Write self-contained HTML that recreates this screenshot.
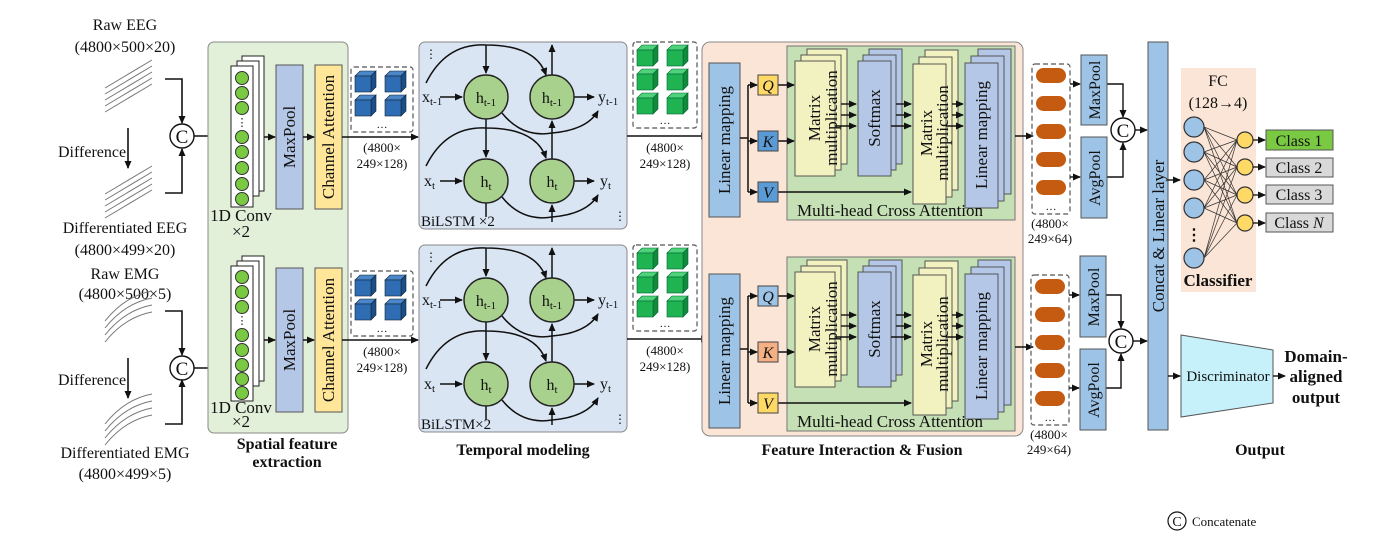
<!DOCTYPE html>
<html><head><meta charset="utf-8"><style>
html,body{margin:0;padding:0;background:#fff}
svg{display:block;font-family:"Liberation Serif",serif}
text{fill:#111}
</style></head><body>
<svg width="1397" height="548" viewBox="0 0 1397 548" xmlns="http://www.w3.org/2000/svg">
<defs>
<marker id="a" markerWidth="8" markerHeight="8" refX="7" refY="4" orient="auto" markerUnits="userSpaceOnUse"><path d="M0,0.5 L8,4 L0,7.5 z" fill="#111"/></marker>
<g id="cubeB"><path d="M0,5 l5,-5 h16 l-5,5z" fill="#4a86c8" stroke="#123" stroke-width=".6"/><path d="M16,5 l5,-5 v16 l-5,5z" fill="#1b4f8a" stroke="#123" stroke-width=".6"/><rect x="0" y="5" width="16" height="16" fill="#2e6db4" stroke="#123" stroke-width=".6"/></g>
<g id="cubeG"><path d="M0,5 l5,-5 h16 l-5,5z" fill="#4fd27a" stroke="#063" stroke-width=".6"/><path d="M16,5 l5,-5 v16 l-5,5z" fill="#128a3c" stroke="#063" stroke-width=".6"/><rect x="0" y="5" width="16" height="16" fill="#1fb451" stroke="#063" stroke-width=".6"/></g>
</defs>

<!-- LEFT INPUTS -->
<g font-size="16" text-anchor="middle">
<text x="125" y="30">Raw EEG</text><text x="125" y="52">(4800×500×20)</text>
<text x="125" y="233">Differentiated EEG</text><text x="125" y="255">(4800×499×20)</text>
<text x="125" y="279">Raw EMG</text><text x="125" y="299">(4800×500×5)</text>
<text x="125" y="458">Differentiated EMG</text><text x="125" y="479">(4800×499×5)</text>
</g>
<g font-size="16"><text x="58" y="157">Difference</text><text x="58" y="385">Difference</text></g>
<g stroke="#777" stroke-width="1" fill="none">
<path d="M105,112 l47,-28 M105,106 l47,-28 M105,100 l47,-28 M105,94 l47,-28 M105,88 l47,-28"/>
<path d="M105,218 l47,-28 M105,212 l47,-28 M105,206 l47,-28 M105,200 l47,-28 M105,194 l47,-28"/>
<path d="M105,342 q20,-25 47,-30 M105,335 q20,-25 47,-30 M105,328 q20,-25 47,-30 M105,321 q20,-25 47,-30"/>
<path d="M105,445 q20,-25 47,-30 M105,438 q20,-25 47,-30 M105,431 q20,-25 47,-30 M105,424 q20,-25 47,-30"/>
</g>
<g stroke="#111" stroke-width="1.6" fill="none">
<path d="M128,128 v40" marker-end="url(#a)"/><path d="M128,358 v40" marker-end="url(#a)"/>
<path d="M165,79 h17 v44" marker-end="url(#a)"/><path d="M165,193 h17 v-44" marker-end="url(#a)"/>
<path d="M165,311 h17 v44" marker-end="url(#a)"/><path d="M165,424 h17 v-44" marker-end="url(#a)"/>
<path d="M194,136 h34" marker-end="url(#a)"/><path d="M194,368 h34" marker-end="url(#a)"/>
</g>
<g fill="#fff" stroke="#111" stroke-width="1.4"><circle cx="182" cy="136" r="12"/><circle cx="182" cy="368" r="12"/></g>
<g font-size="19" text-anchor="middle"><text x="182" y="143">C</text><text x="182" y="375">C</text></g>

<!-- SPATIAL PANEL -->
<rect x="208" y="42" width="140" height="391" rx="6" fill="#e2efd9" stroke="#888"/>
<g>
<rect x="242" y="56" width="22" height="135" fill="#fff" stroke="#222"/>
<rect x="237" y="61" width="22" height="135" fill="#fff" stroke="#222"/>
<rect x="231" y="66" width="22" height="141" fill="#fff" stroke="#222"/>
<g fill="#7ac943" stroke="#333" stroke-width="1"><circle cx="242" cy="78" r="6.5"/><circle cx="242" cy="93" r="6.5"/><circle cx="242" cy="108" r="6.5"/><circle cx="242" cy="137" r="6.5"/><circle cx="242" cy="152" r="6.5"/><circle cx="242" cy="168" r="6.5"/><circle cx="242" cy="184" r="6.5"/><circle cx="242" cy="199" r="6.5"/></g>
<text x="242" y="126" font-size="11" text-anchor="middle">⋮</text>
<rect x="276" y="65" width="27" height="144" fill="#b4c7e7" stroke="#555"/>
<rect x="315" y="65" width="27" height="144" fill="#ffe699" stroke="#555"/>
<text transform="translate(295,137) rotate(-90)" font-size="17" text-anchor="middle">MaxPool</text>
<text transform="translate(334,137) rotate(-90)" font-size="17" text-anchor="middle">Channel Attention</text>
<g stroke="#111" stroke-width="1.5" fill="none"><path d="M264,137 h11" marker-end="url(#a)"/><path d="M303,137 h11" marker-end="url(#a)"/><path d="M342,137 h76" marker-end="url(#a)"/></g>
<rect x="351" y="67" width="62" height="65" rx="3" fill="none" stroke="#555" stroke-dasharray="5,3" stroke-width="1.2"/>
<use href="#cubeB" x="355" y="71"/><use href="#cubeB" x="385" y="71"/><use href="#cubeB" x="355" y="95"/><use href="#cubeB" x="385" y="95"/>
<text x="382" y="128" font-size="11" text-anchor="middle">…</text>
<text x="382" y="152" font-size="13" text-anchor="middle">(4800×</text><text x="382" y="168" font-size="13" text-anchor="middle">249×128)</text>
<text x="241" y="221" font-size="17" text-anchor="middle">1D Conv</text><text x="241" y="237" font-size="17" text-anchor="middle">×2</text>
</g>
<g transform="translate(0,204)">
<rect x="242" y="52" width="22" height="125" fill="#fff" stroke="#222"/>
<rect x="237" y="57" width="22" height="125" fill="#fff" stroke="#222"/>
<rect x="231" y="62" width="22" height="135" fill="#fff" stroke="#222"/>
<g fill="#7ac943" stroke="#333" stroke-width="1"><circle cx="242" cy="73" r="6.5"/><circle cx="242" cy="88" r="6.5"/><circle cx="242" cy="103" r="6.5"/><circle cx="242" cy="131" r="6.5"/><circle cx="242" cy="146" r="6.5"/><circle cx="242" cy="161" r="6.5"/><circle cx="242" cy="175" r="6.5"/><circle cx="242" cy="189" r="6.5"/></g>
<text x="242" y="120" font-size="11" text-anchor="middle">⋮</text>
<rect x="276" y="64" width="27" height="144" fill="#b4c7e7" stroke="#555"/>
<rect x="315" y="64" width="27" height="144" fill="#ffe699" stroke="#555"/>
<text transform="translate(295,136) rotate(-90)" font-size="17" text-anchor="middle">MaxPool</text>
<text transform="translate(334,136) rotate(-90)" font-size="17" text-anchor="middle">Channel Attention</text>
<g stroke="#111" stroke-width="1.5" fill="none"><path d="M264,136 h11" marker-end="url(#a)"/><path d="M303,136 h11" marker-end="url(#a)"/><path d="M342,136 h76" marker-end="url(#a)"/></g>
<rect x="351" y="67" width="62" height="65" rx="3" fill="none" stroke="#555" stroke-dasharray="5,3" stroke-width="1.2"/>
<use href="#cubeB" x="355" y="71"/><use href="#cubeB" x="385" y="71"/><use href="#cubeB" x="355" y="95"/><use href="#cubeB" x="385" y="95"/>
<text x="382" y="128" font-size="11" text-anchor="middle">…</text>
<text x="382" y="152" font-size="13" text-anchor="middle">(4800×</text><text x="382" y="168" font-size="13" text-anchor="middle">249×128)</text>
<text x="241" y="209" font-size="17" text-anchor="middle">1D Conv</text><text x="241" y="223" font-size="17" text-anchor="middle">×2</text>
</g>
<g font-size="16" font-weight="bold" text-anchor="middle"><text x="287" y="449">Spatial feature</text><text x="287" y="467">extraction</text>
<text x="523" y="455">Temporal modeling</text><text x="862" y="455">Feature Interaction &amp; Fusion</text><text x="1260" y="455">Output</text></g>

<!-- BILSTM -->
<g>
<rect x="419" y="42" width="208" height="187" rx="6" fill="#dae5f3" stroke="#888"/>
<g stroke="#111" stroke-width="1.5" fill="none">
<path d="M426,83 q20,-40 60,-38 q50,0 60,30" marker-end="url(#a)"/>
<path d="M426,166 q20,-40 60,-38 q50,0 60,30" marker-end="url(#a)"/>
<path d="M486,45 v28" marker-end="url(#a)"/>
<path d="M552,75 v-30" marker-end="url(#a)"/>
<path d="M486,119 v38" marker-end="url(#a)"/>
<path d="M552,159 v-38" marker-end="url(#a)"/>
<path d="M552,222 v-17" marker-end="url(#a)"/>
<path d="M486,203 v14"/>
<path d="M440,97 h22" marker-end="url(#a)"/><path d="M440,181 h22" marker-end="url(#a)"/>
<path d="M574,97 h20" marker-end="url(#a)"/><path d="M574,181 h20" marker-end="url(#a)"/>
<path d="M502,113 q20,25 50,20 q35,-3 46,-22" marker-end="url(#a)"/>
<path d="M502,197 q20,25 50,20 q35,-3 46,-22" marker-end="url(#a)"/>
</g>
<g fill="#a9d18e" stroke="#222" stroke-width="1.4"><circle cx="486" cy="97" r="22"/><circle cx="552" cy="97" r="22"/><circle cx="486" cy="181" r="22"/><circle cx="552" cy="181" r="22"/></g>
<g font-size="16" text-anchor="middle"><text x="486" y="103">h<tspan font-size="11" dy="3">t-1</tspan></text><text x="552" y="103">h<tspan font-size="11" dy="3">t-1</tspan></text><text x="486" y="187">h<tspan font-size="11" dy="3">t</tspan></text><text x="552" y="187">h<tspan font-size="11" dy="3">t</tspan></text></g>
<g font-size="16"><text x="422" y="102">x<tspan font-size="11" dy="3">t-1</tspan></text><text x="424" y="186">x<tspan font-size="11" dy="3">t</tspan></text><text x="598" y="102">y<tspan font-size="11" dy="3">t-1</tspan></text><text x="600" y="186">y<tspan font-size="11" dy="3">t</tspan></text></g>
<text x="425" y="58" font-size="12">⋮</text><text x="614" y="220" font-size="12">⋮</text>
<text x="421" y="226" font-size="15">BiLSTM ×2</text>
</g>
<g transform="translate(0,203)">
<rect x="419" y="42" width="208" height="187" rx="6" fill="#dae5f3" stroke="#888"/>
<g stroke="#111" stroke-width="1.5" fill="none">
<path d="M426,83 q20,-40 60,-38 q50,0 60,30" marker-end="url(#a)"/>
<path d="M426,166 q20,-40 60,-38 q50,0 60,30" marker-end="url(#a)"/>
<path d="M486,45 v28" marker-end="url(#a)"/>
<path d="M552,75 v-30" marker-end="url(#a)"/>
<path d="M486,119 v38" marker-end="url(#a)"/>
<path d="M552,159 v-38" marker-end="url(#a)"/>
<path d="M552,222 v-17" marker-end="url(#a)"/>
<path d="M486,203 v14"/>
<path d="M440,97 h22" marker-end="url(#a)"/><path d="M440,181 h22" marker-end="url(#a)"/>
<path d="M574,97 h20" marker-end="url(#a)"/><path d="M574,181 h20" marker-end="url(#a)"/>
<path d="M502,113 q20,25 50,20 q35,-3 46,-22" marker-end="url(#a)"/>
<path d="M502,197 q20,25 50,20 q35,-3 46,-22" marker-end="url(#a)"/>
</g>
<g fill="#a9d18e" stroke="#222" stroke-width="1.4"><circle cx="486" cy="97" r="22"/><circle cx="552" cy="97" r="22"/><circle cx="486" cy="181" r="22"/><circle cx="552" cy="181" r="22"/></g>
<g font-size="16" text-anchor="middle"><text x="486" y="103">h<tspan font-size="11" dy="3">t-1</tspan></text><text x="552" y="103">h<tspan font-size="11" dy="3">t-1</tspan></text><text x="486" y="187">h<tspan font-size="11" dy="3">t</tspan></text><text x="552" y="187">h<tspan font-size="11" dy="3">t</tspan></text></g>
<g font-size="16"><text x="422" y="102">x<tspan font-size="11" dy="3">t-1</tspan></text><text x="424" y="186">x<tspan font-size="11" dy="3">t</tspan></text><text x="598" y="102">y<tspan font-size="11" dy="3">t-1</tspan></text><text x="600" y="186">y<tspan font-size="11" dy="3">t</tspan></text></g>
<text x="425" y="58" font-size="12">⋮</text><text x="614" y="220" font-size="12">⋮</text>
<text x="421" y="226" font-size="15">BiLSTM×2</text>
</g>

<!-- GREEN CUBES -->
<g>
<rect x="633" y="42" width="64" height="86" rx="3" fill="none" stroke="#555" stroke-dasharray="5,3" stroke-width="1.2"/>
<use href="#cubeG" x="637" y="45"/><use href="#cubeG" x="667" y="45"/><use href="#cubeG" x="637" y="69"/><use href="#cubeG" x="667" y="69"/><use href="#cubeG" x="637" y="93"/><use href="#cubeG" x="667" y="93"/>
<text x="665" y="124" font-size="11" text-anchor="middle">…</text>
<path d="M627,136 h81" stroke="#111" stroke-width="1.5" marker-end="url(#a)"/>
<text x="665" y="152" font-size="13" text-anchor="middle">(4800×</text><text x="665" y="168" font-size="13" text-anchor="middle">249×128)</text>
</g>
<g transform="translate(0,203)">
<rect x="633" y="42" width="64" height="86" rx="3" fill="none" stroke="#555" stroke-dasharray="5,3" stroke-width="1.2"/>
<use href="#cubeG" x="637" y="45"/><use href="#cubeG" x="667" y="45"/><use href="#cubeG" x="637" y="69"/><use href="#cubeG" x="667" y="69"/><use href="#cubeG" x="637" y="93"/><use href="#cubeG" x="667" y="93"/>
<text x="665" y="124" font-size="11" text-anchor="middle">…</text>
<path d="M627,136 h81" stroke="#111" stroke-width="1.5" marker-end="url(#a)"/>
<text x="665" y="152" font-size="13" text-anchor="middle">(4800×</text><text x="665" y="168" font-size="13" text-anchor="middle">249×128)</text>
</g>

<!-- FUSION PANEL -->
<rect x="702" y="42" width="321" height="394" rx="8" fill="#fbe5d6" stroke="#888"/>
<g>
<rect x="787" y="46" width="228" height="174" fill="#c5e0b4" stroke="#777"/>
<rect x="709" y="63" width="31" height="154" fill="#9dc3e6" stroke="#555"/>
<text transform="translate(730,140) rotate(-90)" font-size="17" text-anchor="middle">Linear mapping</text>
<g stroke="#111" stroke-width="1.5" fill="none">
<path d="M740,138 h8 M748,85 v107"/><path d="M748,85 h9" marker-end="url(#a)"/><path d="M748,141 h9" marker-end="url(#a)"/><path d="M748,192 h9" marker-end="url(#a)"/>
<path d="M778,85 h16" marker-end="url(#a)"/><path d="M778,141 h16" marker-end="url(#a)"/><path d="M778,192 h133" marker-end="url(#a)"/>
</g>
<rect x="758" y="75" width="20" height="20" fill="#ffd966" stroke="#444"/><rect x="758" y="131" width="20" height="20" fill="#5b9bd5" stroke="#444"/><rect x="758" y="182" width="20" height="20" fill="#5b9bd5" stroke="#444"/>
<g font-size="16" font-style="italic" text-anchor="middle"><text x="768" y="91">Q</text><text x="768" y="147">K</text><text x="768" y="198">V</text></g>
<g stroke="#555" stroke-width="1">
<rect x="807" y="49" width="40" height="115" fill="#f2f2c0"/><rect x="801" y="55" width="40" height="115" fill="#f2f2c0"/><rect x="795" y="61" width="40" height="115" fill="#f2f2c0"/>
<rect x="869" y="49" width="33" height="115" fill="#b4c7e7"/><rect x="863" y="55" width="33" height="115" fill="#b4c7e7"/><rect x="858" y="61" width="33" height="115" fill="#b4c7e7"/>
<rect x="925" y="50" width="33" height="140" fill="#f2f2c0"/><rect x="919" y="57" width="33" height="140" fill="#f2f2c0"/><rect x="913" y="64" width="33" height="140" fill="#f2f2c0"/>
<rect x="978" y="49" width="33" height="145" fill="#b4c7e7"/><rect x="971" y="56" width="33" height="145" fill="#b4c7e7"/><rect x="965" y="63" width="33" height="145" fill="#b4c7e7"/>
</g>
<g stroke="#111" stroke-width="1.4" fill="none">
<path d="M841,104 h15" marker-end="url(#a)"/><path d="M841,115 h15" marker-end="url(#a)"/><path d="M835,126 h21" marker-end="url(#a)"/>
<path d="M896,104 h15" marker-end="url(#a)"/><path d="M896,115 h15" marker-end="url(#a)"/><path d="M891,126 h20" marker-end="url(#a)"/>
<path d="M952,104 h11" marker-end="url(#a)"/><path d="M952,115 h11" marker-end="url(#a)"/><path d="M946,126 h17" marker-end="url(#a)"/>
<path d="M1015,136 h18" marker-end="url(#a)"/>
</g>
<g font-size="17" text-anchor="middle">
<text transform="translate(820,118) rotate(-90)">Matrix</text><text transform="translate(837,118) rotate(-90)">multiplication</text>
<text transform="translate(880,118) rotate(-90)">Softmax</text>
<text transform="translate(932,133) rotate(-90)">Matrix</text><text transform="translate(948,133) rotate(-90)">multiplication</text>
<text transform="translate(987,135) rotate(-90)">Linear mapping</text>
<text x="890" y="216">Multi-head Cross Attention</text>
</g>
<rect x="1032" y="64" width="38" height="150" rx="3" fill="none" stroke="#555" stroke-dasharray="5,3" stroke-width="1.2"/>
<g fill="#c55a11"><rect x="1036" y="68" width="30" height="15" rx="7.5"/><rect x="1036" y="96" width="30" height="15" rx="7.5"/><rect x="1036" y="124" width="30" height="15" rx="7.5"/><rect x="1036" y="152" width="30" height="15" rx="7.5"/><rect x="1036" y="180" width="30" height="15" rx="7.5"/></g>
<text x="1051" y="210" font-size="11" text-anchor="middle">…</text>
<text x="1050" y="228" font-size="13" text-anchor="middle">(4800×</text><text x="1050" y="243" font-size="13" text-anchor="middle">249×64)</text>
<g stroke="#111" stroke-width="1.4" fill="none"><path d="M1070,84 h10" marker-end="url(#a)"/><path d="M1070,177 h10" marker-end="url(#a)"/>
<path d="M1107,84 h16 v33" marker-end="url(#a)"/><path d="M1107,177 h16 v-34" marker-end="url(#a)"/><path d="M1135,130 h12" marker-end="url(#a)"/></g>
<rect x="1081" y="55" width="26" height="70" fill="#9dc3e6" stroke="#555"/><rect x="1081" y="137" width="26" height="81" fill="#9dc3e6" stroke="#555"/>
<text transform="translate(1100,90) rotate(-90)" font-size="16" text-anchor="middle">MaxPool</text>
<text transform="translate(1100,178) rotate(-90)" font-size="16" text-anchor="middle">AvgPool</text>
<circle cx="1123" cy="130" r="12" fill="#fff" stroke="#111" stroke-width="1.4"/><text x="1123" y="137" font-size="19" text-anchor="middle">C</text>
</g>
<g transform="translate(0,211)">
<rect x="787" y="46" width="228" height="174" fill="#c5e0b4" stroke="#777"/>
<rect x="709" y="63" width="31" height="154" fill="#9dc3e6" stroke="#555"/>
<text transform="translate(730,140) rotate(-90)" font-size="17" text-anchor="middle">Linear mapping</text>
<g stroke="#111" stroke-width="1.5" fill="none">
<path d="M740,138 h8 M748,85 v107"/><path d="M748,85 h9" marker-end="url(#a)"/><path d="M748,141 h9" marker-end="url(#a)"/><path d="M748,192 h9" marker-end="url(#a)"/>
<path d="M778,85 h16" marker-end="url(#a)"/><path d="M778,141 h16" marker-end="url(#a)"/><path d="M778,192 h133" marker-end="url(#a)"/>
</g>
<rect x="758" y="75" width="20" height="20" fill="#9dc3e6" stroke="#444"/><rect x="758" y="131" width="20" height="20" fill="#f4b183" stroke="#444"/><rect x="758" y="182" width="20" height="20" fill="#ffd966" stroke="#444"/>
<g font-size="16" font-style="italic" text-anchor="middle"><text x="768" y="91">Q</text><text x="768" y="147">K</text><text x="768" y="198">V</text></g>
<g stroke="#555" stroke-width="1">
<rect x="807" y="49" width="40" height="115" fill="#f2f2c0"/><rect x="801" y="55" width="40" height="115" fill="#f2f2c0"/><rect x="795" y="61" width="40" height="115" fill="#f2f2c0"/>
<rect x="869" y="49" width="33" height="115" fill="#b4c7e7"/><rect x="863" y="55" width="33" height="115" fill="#b4c7e7"/><rect x="858" y="61" width="33" height="115" fill="#b4c7e7"/>
<rect x="925" y="50" width="33" height="140" fill="#f2f2c0"/><rect x="919" y="57" width="33" height="140" fill="#f2f2c0"/><rect x="913" y="64" width="33" height="140" fill="#f2f2c0"/>
<rect x="978" y="49" width="33" height="145" fill="#b4c7e7"/><rect x="971" y="56" width="33" height="145" fill="#b4c7e7"/><rect x="965" y="63" width="33" height="145" fill="#b4c7e7"/>
</g>
<g stroke="#111" stroke-width="1.4" fill="none">
<path d="M841,104 h15" marker-end="url(#a)"/><path d="M841,115 h15" marker-end="url(#a)"/><path d="M835,126 h21" marker-end="url(#a)"/>
<path d="M896,104 h15" marker-end="url(#a)"/><path d="M896,115 h15" marker-end="url(#a)"/><path d="M891,126 h20" marker-end="url(#a)"/>
<path d="M952,104 h11" marker-end="url(#a)"/><path d="M952,115 h11" marker-end="url(#a)"/><path d="M946,126 h17" marker-end="url(#a)"/>
<path d="M1015,136 h18" marker-end="url(#a)"/>
</g>
<g font-size="17" text-anchor="middle">
<text transform="translate(820,118) rotate(-90)">Matrix</text><text transform="translate(837,118) rotate(-90)">multiplication</text>
<text transform="translate(880,118) rotate(-90)">Softmax</text>
<text transform="translate(932,133) rotate(-90)">Matrix</text><text transform="translate(948,133) rotate(-90)">multiplication</text>
<text transform="translate(987,135) rotate(-90)">Linear mapping</text>
<text x="890" y="216">Multi-head Cross Attention</text>
</g>
<rect x="1031" y="64" width="38" height="150" rx="3" fill="none" stroke="#555" stroke-dasharray="5,3" stroke-width="1.2"/>
<g fill="#c55a11"><rect x="1035" y="68" width="30" height="15" rx="7.5"/><rect x="1035" y="96" width="30" height="15" rx="7.5"/><rect x="1035" y="124" width="30" height="15" rx="7.5"/><rect x="1035" y="152" width="30" height="15" rx="7.5"/><rect x="1035" y="180" width="30" height="15" rx="7.5"/></g>
<text x="1050" y="210" font-size="11" text-anchor="middle">…</text>
<text x="1049" y="228" font-size="13" text-anchor="middle">(4800×</text><text x="1049" y="243" font-size="13" text-anchor="middle">249×64)</text>
<g stroke="#111" stroke-width="1.4" fill="none"><path d="M1069,84 h10" marker-end="url(#a)"/><path d="M1069,177 h10" marker-end="url(#a)"/>
<path d="M1106,84 h15 v33" marker-end="url(#a)"/><path d="M1106,177 h15 v-34" marker-end="url(#a)"/><path d="M1133,130 h14" marker-end="url(#a)"/></g>
<rect x="1080" y="45" width="26" height="81" fill="#9dc3e6" stroke="#555"/><rect x="1080" y="138" width="26" height="81" fill="#9dc3e6" stroke="#555"/>
<text transform="translate(1099,86) rotate(-90)" font-size="16" text-anchor="middle">MaxPool</text>
<text transform="translate(1099,179) rotate(-90)" font-size="16" text-anchor="middle">AvgPool</text>
<circle cx="1121" cy="130" r="12" fill="#fff" stroke="#111" stroke-width="1.4"/><text x="1121" y="137" font-size="19" text-anchor="middle">C</text>
</g>

<!-- CONCAT BAR -->
<rect x="1148" y="42" width="20" height="388" fill="#9dc3e6" stroke="#555"/>
<text transform="translate(1164,236) rotate(-90)" font-size="17" text-anchor="middle">Concat &amp; Linear layer</text>

<!-- CLASSIFIER -->
<rect x="1181" y="68" width="75" height="224" fill="#fbe5d6"/>
<text x="1218" y="86" font-size="16" text-anchor="middle">FC</text><text x="1218" y="108" font-size="16" text-anchor="middle">(128→4)</text>
<path d="M1168,180 h12" stroke="#111" stroke-width="1.4" marker-end="url(#a)"/>
<g stroke="#333" stroke-width=".7">
<path d="M1204,127 L1237,140 M1204,127 L1237,167 M1204,127 L1237,195 M1204,127 L1237,223
M1204,152 L1237,140 M1204,152 L1237,167 M1204,152 L1237,195 M1204,152 L1237,223
M1204,180 L1237,140 M1204,180 L1237,167 M1204,180 L1237,195 M1204,180 L1237,223
M1204,208 L1237,140 M1204,208 L1237,167 M1204,208 L1237,195 M1204,208 L1237,223
M1204,258 L1237,140 M1204,258 L1237,167 M1204,258 L1237,195 M1204,258 L1237,223"/>
</g>
<g fill="#9dc3e6" stroke="#333" stroke-width="1.2"><circle cx="1194" cy="127" r="10"/><circle cx="1194" cy="152" r="10"/><circle cx="1194" cy="180" r="10"/><circle cx="1194" cy="208" r="10"/><circle cx="1194" cy="258" r="10"/></g>
<text x="1194" y="240" font-size="16" text-anchor="middle" font-weight="bold">⋮</text>
<g fill="#ffd966" stroke="#333" stroke-width="1.2"><circle cx="1245" cy="140" r="8"/><circle cx="1245" cy="167" r="8"/><circle cx="1245" cy="195" r="8"/><circle cx="1245" cy="223" r="8"/></g>
<g stroke="#111" stroke-width="1.3"><path d="M1253,140 h12" marker-end="url(#a)"/><path d="M1253,167 h12" marker-end="url(#a)"/><path d="M1253,195 h12" marker-end="url(#a)"/><path d="M1253,223 h12" marker-end="url(#a)"/></g>
<rect x="1266" y="130" width="67" height="20" fill="#7ac943" stroke="#555"/>
<rect x="1266" y="158" width="67" height="19" fill="#d9d9d9" stroke="#555"/>
<rect x="1266" y="185" width="67" height="19" fill="#d9d9d9" stroke="#555"/>
<rect x="1266" y="213" width="67" height="19" fill="#d9d9d9" stroke="#555"/>
<g font-size="16" text-anchor="middle"><text x="1299" y="146">Class 1</text><text x="1299" y="173">Class 2</text><text x="1299" y="200">Class 3</text><text x="1299" y="228">Class <tspan font-style="italic">N</tspan></text></g>
<text x="1218" y="286" font-size="17" font-weight="bold" text-anchor="middle">Classifier</text>

<!-- DISCRIMINATOR -->
<path d="M1168,376 h12" stroke="#111" stroke-width="1.4" marker-end="url(#a)"/>
<path d="M1181,335 L1273,350 L1273,403 L1181,417 Z" fill="#c6f1fb" stroke="#555"/>
<text x="1228" y="381" font-size="15" text-anchor="middle">Discriminator</text>
<path d="M1273,376 h12" stroke="#111" stroke-width="1.4" marker-end="url(#a)"/>
<g font-size="17" font-weight="bold" text-anchor="middle"><text x="1316" y="362">Domain-</text><text x="1316" y="382">aligned</text><text x="1316" y="403">output</text></g>

<!-- LEGEND -->
<circle cx="1177" cy="521" r="9" fill="#fff" stroke="#111" stroke-width="1.2"/><text x="1177" y="526" font-size="14" text-anchor="middle">C</text>
<text x="1192" y="526" font-size="13">Concatenate</text>
</svg>
</body></html>
